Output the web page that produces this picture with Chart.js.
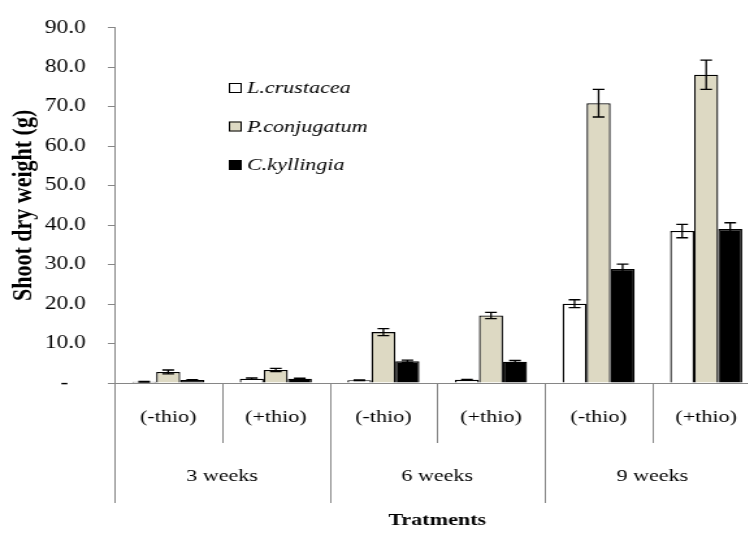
<!DOCTYPE html>
<html>
<head>
<meta charset="utf-8">
<script src="https://cdn.jsdelivr.net/npm/chart.js@4.4.1/dist/chart.umd.min.js"></script>
<style>
    html, body { margin: 0; padding: 0; background: #fff; overflow: hidden; }
    #wrap { width: 748px; height: 534px; overflow: hidden; }
    canvas { display: block; }
</style>
</head>
<body>
<div id="wrap">
    <!-- drawn narrow and stretched sideways, like the original picture -->
    <canvas id="chart" width="600" height="534" style="width:780px;height:534px"></canvas>
</div>
<script>
const treatments = ['(-thio)', '(+thio)', '(-thio)', '(+thio)', '(-thio)', '(+thio)'];
const periods = ['3 weeks', '6 weeks', '9 weeks'];
const speciesNames = ['L.crustacea', 'P.conjugatum', 'C.kyllingia'];

const crustacea = [0.3, 1.1, 0.7, 0.8, 20.1, 38.5];
const crustaceaErr = [0.1, 0.2, 0.1, 0.1, 1.0, 1.7];
const conjugatum = [2.8, 3.3, 12.9, 17.1, 70.9, 78.1];
const conjugatumErr = [0.5, 0.4, 0.9, 0.8, 3.5, 3.7];
const kyllingia = [0.75, 1.1, 5.5, 5.4, 28.9, 39.0];
const kyllingiaErr = [0.1, 0.1, 0.3, 0.3, 1.2, 1.6];

const yMin = 0;
const yMax = 90;
const yStep = 10;

const serif = '"Liberation Serif", "Times New Roman", serif';
const axisGrey = '#868686';

// error bars from the y scale
const errorBarPlugin = {
    id: 'errorBars',
    afterDatasetsDraw(chart) {
        const ctx = chart.ctx;
        const y = chart.scales.y;
        ctx.save();
        ctx.strokeStyle = '#000';
        ctx.lineWidth = 1.3;
        chart.data.datasets.forEach((ds, di) => {
            const meta = chart.getDatasetMeta(di);
            meta.data.forEach((bar, i) => {
                const v = ds.data[i];
                const e = ds.errors[i];
                const yTop = y.getPixelForValue(v + e);
                const yBot = y.getPixelForValue(Math.max(v - e, 0));
                const cap = 4.5;
                ctx.beginPath();
                ctx.moveTo(bar.x, yTop);
                ctx.lineTo(bar.x, yBot);
                ctx.moveTo(bar.x - cap, yTop);
                ctx.lineTo(bar.x + cap, yTop);
                ctx.moveTo(bar.x - cap, yBot);
                ctx.lineTo(bar.x + cap, yBot);
                ctx.stroke();
            });
        });
        ctx.restore();
    }
};

// two level category axis: treatment under each bar group, period under each pair
const categoryAxisPlugin = {
    id: 'categoryAxis',
    afterDraw(chart) {
        const ctx = chart.ctx;
        const x = chart.scales.x;
        const top = x.top;
        const n = treatments.length;
        const edge = i => i === 0 ? x.left : i === n ? x.right
            : (x.getPixelForValue(i - 1) + x.getPixelForValue(i)) / 2;

        ctx.save();
        ctx.strokeStyle = axisGrey;
        ctx.lineWidth = 1;
        for (let i = 0; i <= n; i++) {
            const bottom = i % 2 === 0 ? top + 120 : top + 60;
            const px = Math.round(edge(i)) + 0.5;
            ctx.beginPath();
            ctx.moveTo(px, top);
            ctx.lineTo(px, bottom);
            ctx.stroke();
        }

        ctx.fillStyle = '#000';
        ctx.textAlign = 'center';
        ctx.textBaseline = 'middle';
        ctx.font = '17px ' + serif;
        treatments.forEach((t, i) => ctx.fillText(t, x.getPixelForValue(i), top + 35));
        periods.forEach((p, j) => ctx.fillText(p, edge(2 * j + 1), top + 94));
        ctx.restore();
    }
};

// legend inside the plot, top left
const innerLegendPlugin = {
    id: 'innerLegend',
    afterDraw(chart) {
        const ctx = chart.ctx;
        const boxX = 176, textX = 190, firstY = 88, rowGap = 38.5, box = 10;
        ctx.save();
        ctx.font = 'italic 17px ' + serif;
        ctx.textAlign = 'left';
        ctx.textBaseline = 'middle';
        chart.data.datasets.forEach((ds, i) => {
            const cy = firstY + i * rowGap;
            ctx.fillStyle = ds.backgroundColor;
            ctx.fillRect(boxX, cy - box / 2, box, box);
            ctx.strokeStyle = '#000';
            ctx.lineWidth = 1;
            ctx.strokeRect(boxX + 0.5, cy - box / 2 + 0.5, box - 1, box - 1);
            ctx.fillStyle = '#000';
            ctx.fillText(ds.label, textX, cy + 1);
        });
        ctx.restore();
    }
};

const ctx = document.getElementById('chart').getContext('2d');
new Chart(ctx, {
    type: 'bar',
    data: {
        labels: treatments,
        datasets: [
            { label: speciesNames[0], data: crustacea, errors: crustaceaErr,
              backgroundColor: '#ffffff', borderColor: '#000', borderWidth: 1.3 },
            { label: speciesNames[1], data: conjugatum, errors: conjugatumErr,
              backgroundColor: '#ddd9c3', borderColor: '#000', borderWidth: 1.3 },
            { label: speciesNames[2], data: kyllingia, errors: kyllingiaErr,
              backgroundColor: '#000000', borderColor: '#000', borderWidth: 1.3 }
        ]
    },
    options: {
        responsive: false,
        animation: false,
        devicePixelRatio: 1,
        layout: { padding: { top: 18, right: 15.4, left: 0, bottom: 0 } },
        datasets: { bar: { barPercentage: 1, categoryPercentage: 0.67 } },
        plugins: {
            legend: { display: false },
            tooltip: { enabled: false }
        },
        scales: {
            x: {
                afterFit(scale) { scale.height = 151; },
                ticks: { display: false },
                grid: { display: false },
                border: { color: axisGrey, width: 1 },
                title: {
                    display: true, text: 'Tratments', color: '#000',
                    font: { family: serif, size: 17, weight: 'bold' },
                    padding: { top: 0, bottom: 3 }
                }
            },
            y: {
                min: yMin,
                max: yMax,
                afterFit(scale) { scale.width = 88; },
                ticks: {
                    stepSize: yStep,
                    padding: 17,
                    color: '#000',
                    font: { family: serif, size: 18 },
                    callback: v => v === 0 ? '-\u00a0\u00a0\u00a0' : v.toFixed(1)
                },
                grid: { drawOnChartArea: false, tickLength: 5, color: axisGrey },
                border: { color: axisGrey, width: 1 },
                title: {
                    display: true, text: 'Shoot dry weight (g)', color: '#000',
                    font: { family: serif, size: 22, weight: 'bold' },
                    padding: { top: 5, bottom: 0 }
                }
            }
        }
    },
    plugins: [errorBarPlugin, categoryAxisPlugin, innerLegendPlugin]
});
</script>
</body>
</html>
